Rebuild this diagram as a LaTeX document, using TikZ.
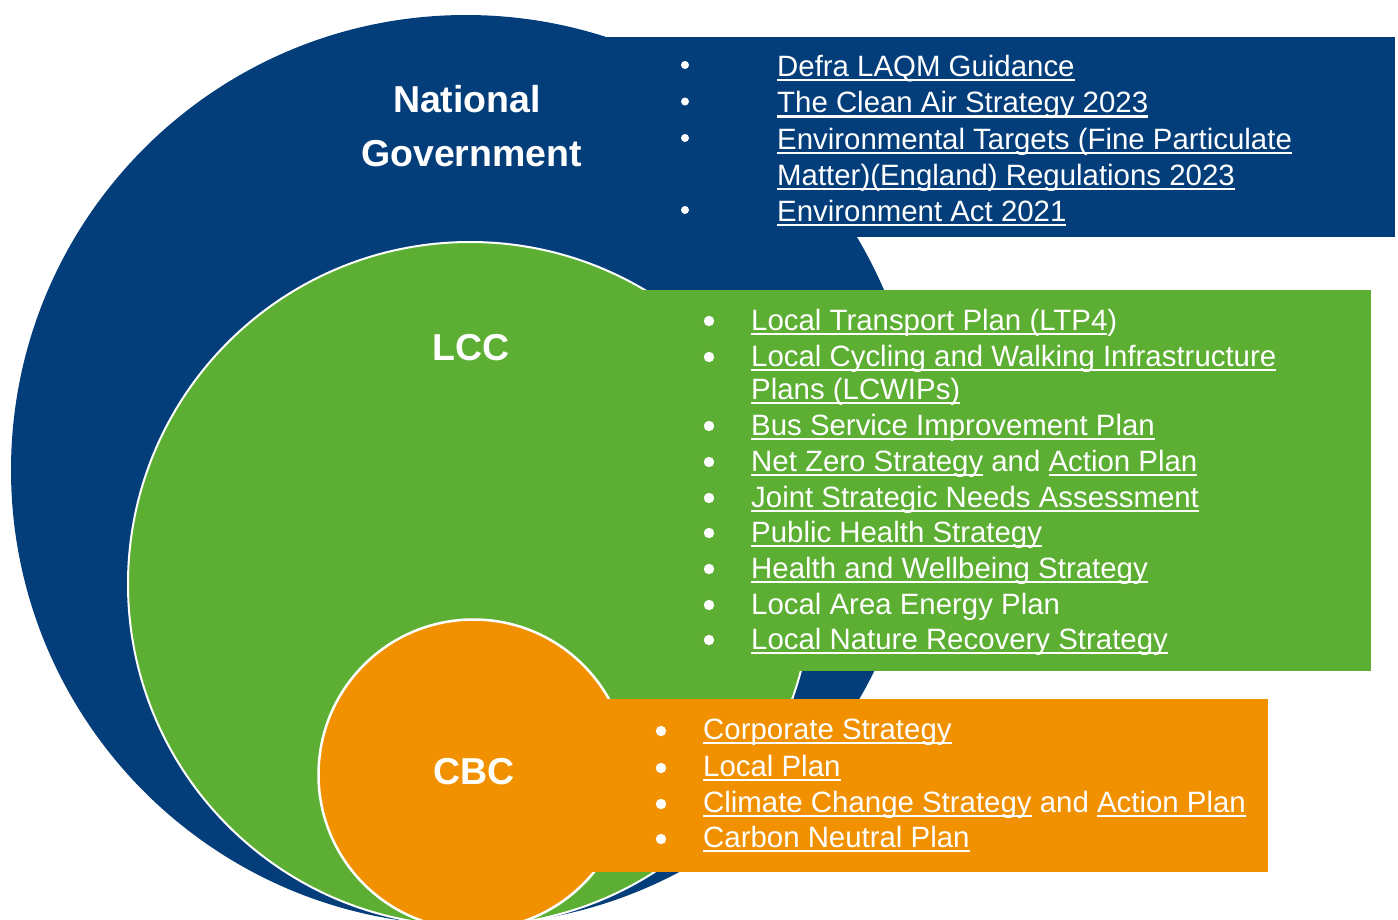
\documentclass[tikz,border=0pt]{standalone}
\usepackage{fontspec}
\setmainfont{Liberation Sans}

\definecolor{ngblue}{RGB}{3,62,123}
\definecolor{lccgreen}{RGB}{92,175,50}
\definecolor{cbcorange}{RGB}{241,145,0}

% hyperlink-style underline at a fixed depth below the baseline
\newsavebox\ulbox
\newcommand\linkul[1]{\sbox\ulbox{#1}\rlap{\rule[-5pt]{\wd\ulbox}{2.4pt}}\usebox\ulbox}

\tikzset{
  item/.style={anchor=base west, inner sep=0pt, text=white,
               font=\fontsize{29.4}{36}\selectfont},
  title/.style={anchor=base, inner sep=0pt, text=white,
                font=\bfseries\fontsize{37.5}{44}\selectfont},
  bulletdot/.style={fill=white},
}

\begin{document}
\begin{tikzpicture}[x=1pt,y=-1pt]
\useasboundingbox (0,0) rectangle (1398,919);
\clip (0,0) rectangle (1398,919);

% nested circles with their list panels
\fill[ngblue] (466,470) circle[radius=455pt];
\fill[ngblue] (590,37) rectangle (1395,237);
\filldraw[fill=lccgreen, draw=white, line width=2pt] (470,584) circle[radius=342pt];
\fill[lccgreen] (600,290) rectangle (1371,671);
\filldraw[fill=cbcorange, draw=white, line width=2.5pt] (473.5,774.5) circle[radius=155pt];
\fill[cbcorange] (580,699) rectangle (1268,872);

% circle titles
\node[title] (natl) at (467,112) {National};
\node[title] (govt) at (471.5,166) {Government};
\node[title] (lcc) at (471,360) {LCC};
\node[title] (cbc) at (474,784) {CBC};

% National Government documents
\foreach \yb in {76,112.5,149,221} \fill[bulletdot] (685,\yb-11) circle[radius=4pt];
\node[item] (ng1) at (777,76) {\linkul{Defra LAQM Guidance}};
\node[item] (ng2) at (777,112.5) {\linkul{The Clean Air Strategy 2023}};
\node[item] (ng3) at (777,149) {\linkul{Environmental Targets (Fine Particulate}};
\node[item] (ng3b) at (777,185) {\linkul{Matter)(England) Regulations 2023}};
\node[item] (ng4) at (777,221) {\linkul{Environment Act 2021}};

% LCC documents
\foreach \yb in {330,366,435,471,507,542,578,614,649} \fill[bulletdot] (709,\yb-9) circle[radius=5.2pt];
\node[item] (l1) at (751,330) {\linkul{Local Transport Plan (LTP4})};
\node[item] (l2) at (751,366) {\linkul{Local Cycling and Walking Infrastructure}};
\node[item] (l2b) at (751,399) {\linkul{Plans (LCWIPs)}};
\node[item] (l3) at (751,435) {\linkul{Bus Service Improvement Plan}};
\node[item] (l4) at (751,471) {\linkul{Net Zero Strategy} and \linkul{Action Plan}};
\node[item] (l5) at (751,507) {\linkul{Joint Strategic Needs Assessment}};
\node[item] (l6) at (751,542) {\linkul{Public Health Strategy}};
\node[item] (l7) at (751,578) {\linkul{Health and Wellbeing Strategy}};
\node[item] (l8) at (751,614) {Local Area Energy Plan};
\node[item] (l9) at (751,649) {\linkul{Local Nature Recovery Strategy}};

% CBC documents
\foreach \yb in {739,776,812,847} \fill[bulletdot] (661,\yb-8) circle[radius=5.2pt];
\node[item] (c1) at (703,739) {\linkul{Corporate Strategy}};
\node[item] (c2) at (703,776) {\linkul{Local Plan}};
\node[item] (c3) at (703,812) {\linkul{Climate Change Strategy} and \linkul{Action Plan}};
\node[item] (c4) at (703,847) {\linkul{Carbon Neutral Plan}};
\end{tikzpicture}
\end{document}
